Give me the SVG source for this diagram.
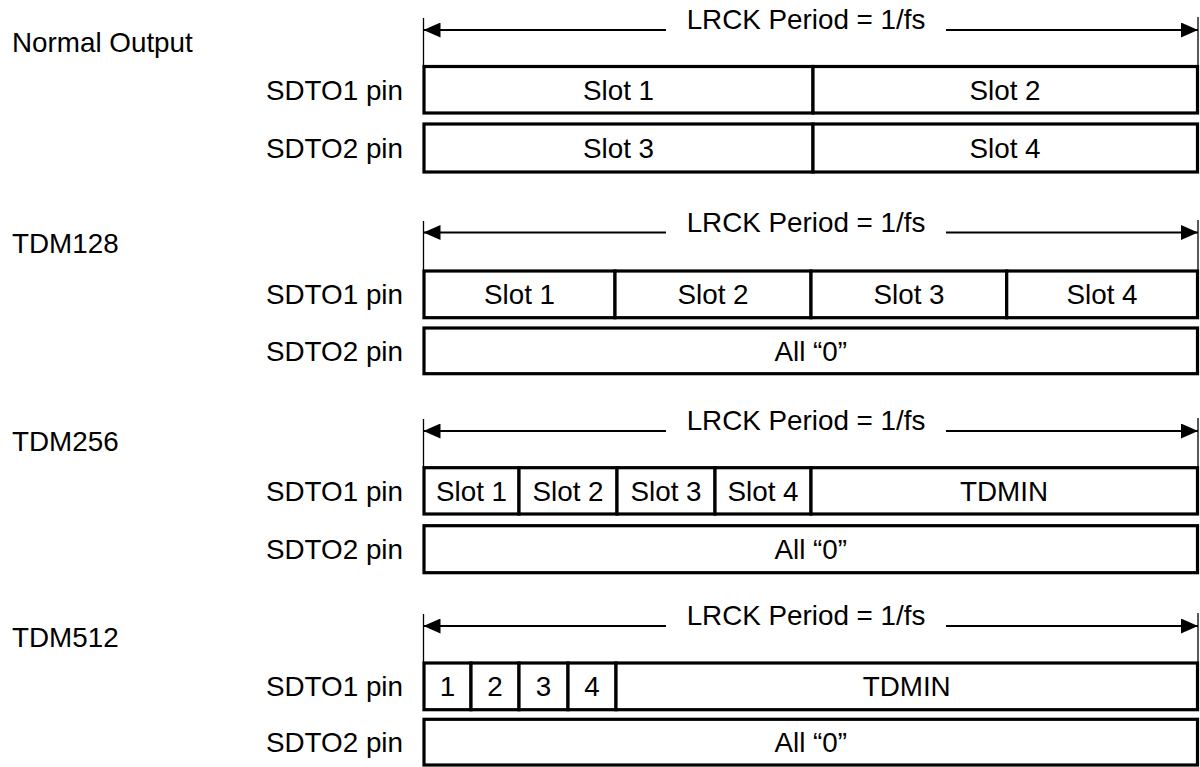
<svg xmlns="http://www.w3.org/2000/svg" width="1200" height="767" viewBox="0 0 1200 767">
<style>
text{font-family:"Liberation Sans",Arial,sans-serif;font-size:27.8px;fill:#000}
.m{text-anchor:middle}
.e{text-anchor:end}
.box{fill:#fff;stroke:#000;stroke-width:3.2}
.ln{stroke:#000;stroke-width:1.8;fill:none}
.tk{stroke:#000;stroke-width:1.3;fill:none}
</style>
<defs>
<marker id="ah" viewBox="0 0 17 15" refX="17" refY="7.5" markerWidth="17" markerHeight="15" markerUnits="userSpaceOnUse" orient="auto-start-reverse">
<path d="M0,0 L17,7.5 L0,15 Z" fill="#000"/>
</marker>
</defs>
<rect width="1200" height="767" fill="#fff"/>

<g id="connectors">
<!-- Normal -->
<line class="tk" x1="423.5" y1="18" x2="423.5" y2="66"/>
<line class="tk" x1="1198" y1="17" x2="1198" y2="66"/>
<line class="ln" x1="666" y1="30" x2="423.5" y2="30" marker-end="url(#ah)"/>
<line class="ln" x1="946" y1="30" x2="1198" y2="30" marker-end="url(#ah)"/>
<!-- TDM128 -->
<line class="tk" x1="423.5" y1="221" x2="423.5" y2="271"/>
<line class="tk" x1="1198" y1="220" x2="1198" y2="271"/>
<line class="ln" x1="666" y1="232.5" x2="423.5" y2="232.5" marker-end="url(#ah)"/>
<line class="ln" x1="946" y1="232.5" x2="1198" y2="232.5" marker-end="url(#ah)"/>
<!-- TDM256 -->
<line class="tk" x1="423.5" y1="419" x2="423.5" y2="468"/>
<line class="tk" x1="1198" y1="418" x2="1198" y2="468"/>
<line class="ln" x1="666" y1="431" x2="423.5" y2="431" marker-end="url(#ah)"/>
<line class="ln" x1="946" y1="431" x2="1198" y2="431" marker-end="url(#ah)"/>
<!-- TDM512 -->
<line class="tk" x1="423.5" y1="614" x2="423.5" y2="663"/>
<line class="tk" x1="1198" y1="613" x2="1198" y2="663"/>
<line class="ln" x1="666" y1="626" x2="423.5" y2="626" marker-end="url(#ah)"/>
<line class="ln" x1="946" y1="626" x2="1198" y2="626" marker-end="url(#ah)"/>
</g>

<!-- Normal Output -->
<g id="normal">
<text x="12" y="52">Normal Output</text>
<text class="m" x="806" y="29">LRCK Period = 1/fs</text>
<text class="e" x="403" y="99.5">SDTO1 pin</text>
<text class="e" x="403" y="157.7">SDTO2 pin</text>
</g>
<g id="normal-sdto1">
<rect class="box" x="424" y="66.5" width="389" height="46.5"/>
<rect class="box" x="813" y="66.5" width="384.5" height="46.5"/>
<text class="m" x="618.5" y="99.5">Slot 1</text>
<text class="m" x="1005" y="99.5">Slot 2</text>
</g>
<g id="normal-sdto2">
<rect class="box" x="424" y="124" width="389" height="48"/>
<rect class="box" x="813" y="124" width="384.5" height="48"/>
<text class="m" x="618.5" y="157.7">Slot 3</text>
<text class="m" x="1005" y="157.7">Slot 4</text>
</g>

<!-- TDM128 -->
<g id="tdm128">
<text x="12" y="253">TDM128</text>
<text class="m" x="806" y="231.5">LRCK Period = 1/fs</text>
<text class="e" x="403" y="304">SDTO1 pin</text>
<text class="e" x="403" y="360.5">SDTO2 pin</text>
</g>
<g id="tdm128-sdto1">
<rect class="box" x="424" y="271" width="191" height="46.7"/>
<rect class="box" x="615" y="271" width="196" height="46.7"/>
<rect class="box" x="811" y="271" width="195.7" height="46.7"/>
<rect class="box" x="1006.7" y="271" width="190.8" height="46.7"/>
<text class="m" x="519.5" y="304">Slot 1</text>
<text class="m" x="713" y="304">Slot 2</text>
<text class="m" x="909" y="304">Slot 3</text>
<text class="m" x="1102" y="304">Slot 4</text>
</g>
<g id="tdm128-sdto2">
<rect class="box" x="424" y="328" width="773.5" height="45.7"/>
<text class="m" x="810.75" y="360.5">All “0”</text>
</g>

<!-- TDM256 -->
<g id="tdm256">
<text x="12" y="451">TDM256</text>
<text class="m" x="806" y="430">LRCK Period = 1/fs</text>
<text class="e" x="403" y="500.5">SDTO1 pin</text>
<text class="e" x="403" y="559">SDTO2 pin</text>
</g>
<g id="tdm256-sdto1">
<rect class="box" x="424" y="467.7" width="95" height="46.3"/>
<rect class="box" x="519" y="467.7" width="98" height="46.3"/>
<rect class="box" x="617" y="467.7" width="98" height="46.3"/>
<rect class="box" x="715" y="467.7" width="96" height="46.3"/>
<rect class="box" x="811" y="467.7" width="386.5" height="46.3"/>
<text class="m" x="471.5" y="500.5">Slot 1</text>
<text class="m" x="568" y="500.5">Slot 2</text>
<text class="m" x="666" y="500.5">Slot 3</text>
<text class="m" x="763" y="500.5">Slot 4</text>
<text class="m" x="1004" y="500.5">TDMIN</text>
</g>
<g id="tdm256-sdto2">
<rect class="box" x="424" y="525.7" width="773.5" height="47"/>
<text class="m" x="810.75" y="559">All “0”</text>
</g>

<!-- TDM512 -->
<g id="tdm512">
<text x="12" y="647">TDM512</text>
<text class="m" x="806" y="625">LRCK Period = 1/fs</text>
<text class="e" x="403" y="696">SDTO1 pin</text>
<text class="e" x="403" y="752">SDTO2 pin</text>
</g>
<g id="tdm512-sdto1">
<rect class="box" x="424" y="663" width="47" height="46.7"/>
<rect class="box" x="471" y="663" width="48" height="46.7"/>
<rect class="box" x="519" y="663" width="49" height="46.7"/>
<rect class="box" x="568" y="663" width="48" height="46.7"/>
<rect class="box" x="616" y="663" width="581.5" height="46.7"/>
<text class="m" x="447.5" y="696">1</text>
<text class="m" x="495" y="696">2</text>
<text class="m" x="543.5" y="696">3</text>
<text class="m" x="592" y="696">4</text>
<text class="m" x="906.7" y="696">TDMIN</text>
</g>
<g id="tdm512-sdto2">
<rect class="box" x="424" y="719.3" width="773.5" height="45.7"/>
<text class="m" x="810.75" y="752">All “0”</text>
</g>
</svg>
